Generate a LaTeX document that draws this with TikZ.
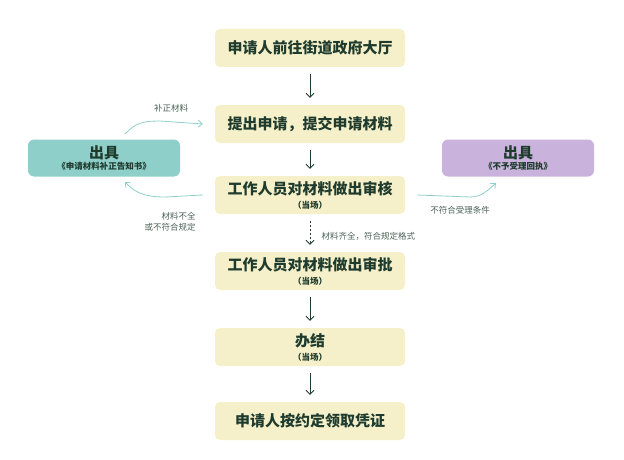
\documentclass[tikz,border=0pt]{standalone}
\usepackage{fontspec}
\newfontfamily\cjk{Noto Sans CJK SC}
\usetikzlibrary{positioning,arrows.meta}
\definecolor{boxfill}{HTML}{F5F0C9}
\definecolor{tealfill}{HTML}{8FCFC9}
\definecolor{purplefill}{HTML}{C9B2DB}
\definecolor{ink}{HTML}{1E3B2E}
\definecolor{linkcol}{HTML}{8ED0C9}
\newcommand\subtxt{\cjk\bfseries\fontsize{8.5}{9}\selectfont}
\begin{document}
\begin{tikzpicture}[
        x=1pt, y=-1pt,
        stepbox/.style={rectangle, rounded corners=5pt, fill=boxfill, minimum width=190pt, minimum height=38pt, align=center, text=ink, font=\cjk\bfseries\fontsize{15}{16}\selectfont},
        sidebox/.style={rectangle, rounded corners=6pt, minimum width=152pt, minimum height=37pt, align=center, text=ink, font=\cjk\bfseries\fontsize{15}{14}\selectfont},
        flow/.style={-{Straight Barb[length=4pt,width=8pt]}, thick, ink},
        link/.style={-{Straight Barb[length=4pt,width=7pt]}, linkcol, thick},
        note/.style={font=\cjk\fontsize{8.5}{11}\selectfont, text=ink!80, align=right}
    ]
        \useasboundingbox (0,0) rectangle (624,460);

        % Main steps
        \node[stepbox] (s1) at (310,48) {申请人前往街道政府大厅};
        \node[stepbox] (s2) at (310,124) {提出申请，提交申请材料};
        \node[stepbox] (s3) at (310,195) {工作人员对材料做出审核\\[-2pt]{\subtxt（当场）}};
        \node[stepbox] (s4) at (310,271) {工作人员对材料做出审批\\[-2pt]{\subtxt（当场）}};
        \node[stepbox] (s5) at (310,347) {办结\\[-2pt]{\subtxt（当场）}};
        \node[stepbox] (s6) at (310,421) {申请人按约定领取凭证};

        % Side boxes
        \node[sidebox, fill=tealfill] (supp) at (104,158) {出具\\[-3pt]{\subtxt《申请材料补正告知书》}};
        \node[sidebox, fill=purplefill] (rej) at (518,158) {出具\\[-3pt]{\subtxt《不予受理回执》}};

        % Flow
        \draw[flow] ([yshift=-7pt]s1.south) -- ([yshift=7pt]s2.north);
        \draw[flow] ([yshift=-7pt]s2.south) -- ([yshift=7pt]s3.north);
        \draw[flow, dash pattern=on 2pt off 2pt] ([yshift=-7pt]s3.south) -- ([yshift=7pt]s4.north);
        \draw[flow] ([yshift=-7pt]s4.south) -- ([yshift=7pt]s5.north);
        \draw[flow] ([yshift=-7pt]s5.south) -- ([yshift=7pt]s6.north);
        \node[note, align=left, anchor=west] at (318,236) {材料齐全，符合规定格式};

        % Side links
        \draw[link] ([xshift=-12pt]s3.west) -- (165,197) .. controls (140,197) and (133,190) .. (125,182);
        \node[note] at (170,222) {材料不全\\或不符合规定};
        \draw[link] (125,134) .. controls (135,124) and (140,121) .. (160,121) -- ([xshift=-12pt]s2.west);
        \node[note] at (171,108) {补正材料};
        \draw[link] ([xshift=12pt]s3.east) -- (470,197) .. controls (482,197) and (488,190) .. (496,183);
        \node[note] at (460,210) {不符合受理条件};
    \end{tikzpicture}
\end{document}
